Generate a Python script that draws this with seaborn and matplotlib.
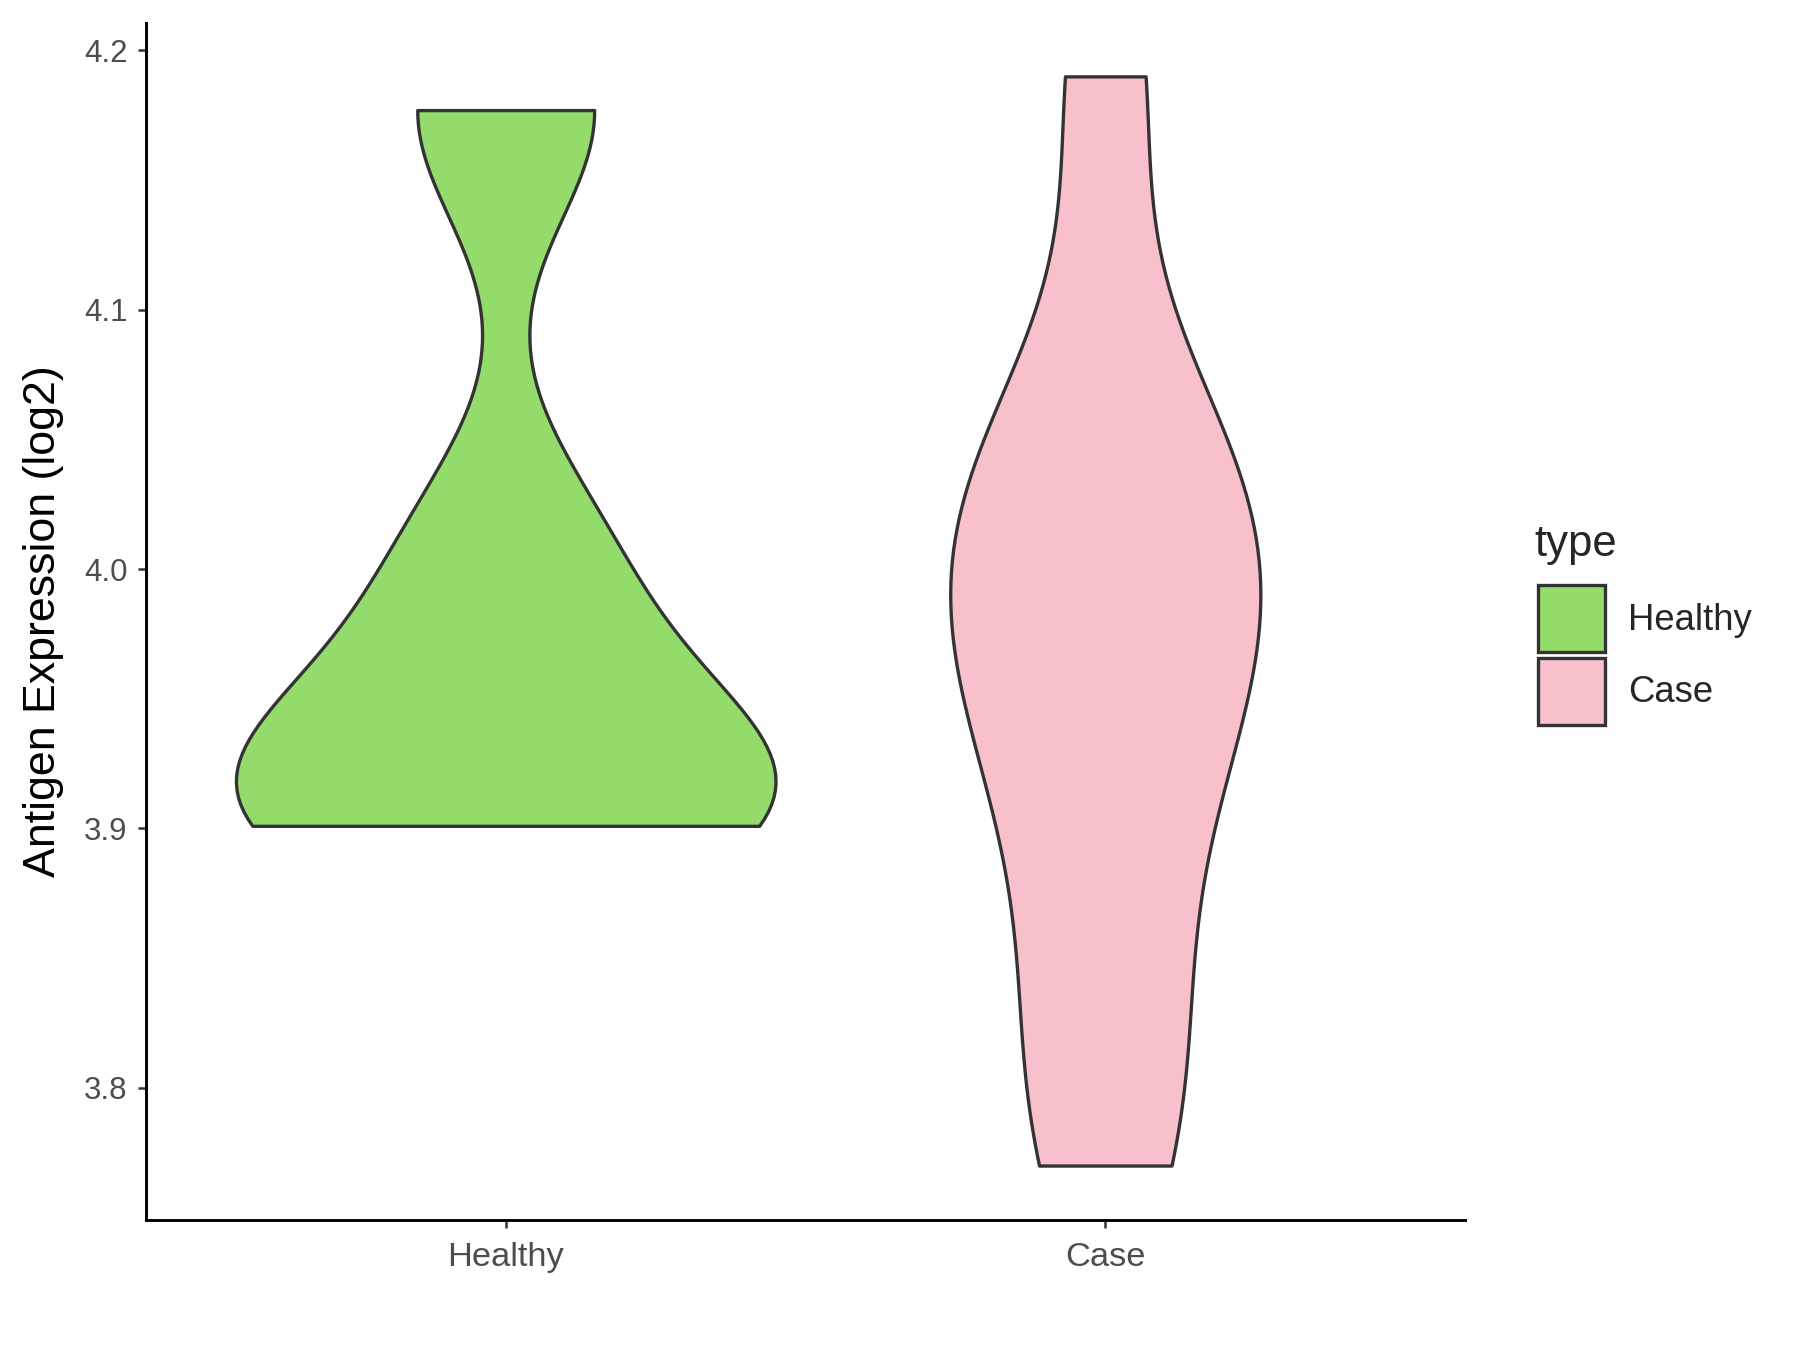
import numpy as np
import pandas as pd
import matplotlib
matplotlib.use('agg')
import matplotlib.pyplot as plt
from matplotlib.patches import Patch
import seaborn as sns

# data
categories = ["Healthy", "Case"]
healthy_values = [3.901, 3.914, 3.926, 4.003, 4.177]
case_values = [3.770, 3.820, 3.892, 3.956, 3.959, 4.008, 4.027, 4.058, 4.190]
colors = ["#93DB6B", "#F7C0CB"]

df = pd.DataFrame({
    "type": ["Healthy"] * len(healthy_values) + ["Case"] * len(case_values),
    "value": healthy_values + case_values,
})


#bandwidth like R's bw.nrd0 (ggplot default)
def nrd0(kde):
    x = kde.dataset[0]
    sd = x.std(ddof=1)
    q25, q75 = np.percentile(x, [25, 75])
    lo = min(sd, (q75 - q25) / 1.34)
    if lo <= 0:
        lo = sd
    return 0.9 * lo * len(x) ** -0.2 / sd


sns.set_style("white")
plt.rcParams['font.family'] = ['Liberation Sans', 'DejaVu Sans']

fig = plt.figure(figsize=(12, 9), dpi=150)
ax = fig.add_axes([0.0811, 0.0963, 0.7328, 0.8867])

sns.violinplot(data=df, x="type", y="value", hue="type", order=categories,
               hue_order=categories, palette=colors, cut=0, width=0.9,
               density_norm="area", common_norm=True, inner=None,
               bw_method=nrd0, linewidth=1.6, linecolor="#333333",
               saturation=1, legend=False, ax=ax)

ax.set_xlim(-0.6, 1.6)
ax.set_ylim(3.749, 4.2106)
ax.set_yticks([3.8, 3.9, 4.0, 4.1, 4.2])
ax.set_yticklabels(["3.8", "3.9", "4.0", "4.1", "4.2"])
ax.set_xlabel("")
ax.set_ylabel("Antigen Expression (log2)", fontsize=21.5, color="black")
ax.yaxis.set_label_coords(-0.062, 0.5)

for side in ["top", "right"]:
    ax.spines[side].set_visible(False)
for side in ["left", "bottom"]:
    ax.spines[side].set_color("black")
    ax.spines[side].set_linewidth(1.4)

ax.tick_params(axis="both", length=3.8, width=1.2, color="#333333",
               labelcolor="#4D4D4D", left=True, bottom=True)
ax.tick_params(axis="y", labelsize=15, pad=5)
ax.tick_params(axis="x", labelsize=16.5, pad=7)

# legend: title drawn as text, boxes as patches
fig.text(0.8522, 0.597, "type", fontsize=21, va="center", ha="left")
handles = [Patch(facecolor=c, edgecolor="#333333", linewidth=1.6, label=l)
           for c, l in zip(colors, categories)]
leg = fig.legend(handles=handles, loc="upper left",
                 bbox_to_anchor=(0.8544, 0.5667), frameon=False,
                 fontsize=17.5, handlelength=1.85, handleheight=2.45,
                 labelspacing=0.16, handletextpad=0.62, borderpad=0,
                 borderaxespad=0)

fig.savefig("out.png", dpi=150)
